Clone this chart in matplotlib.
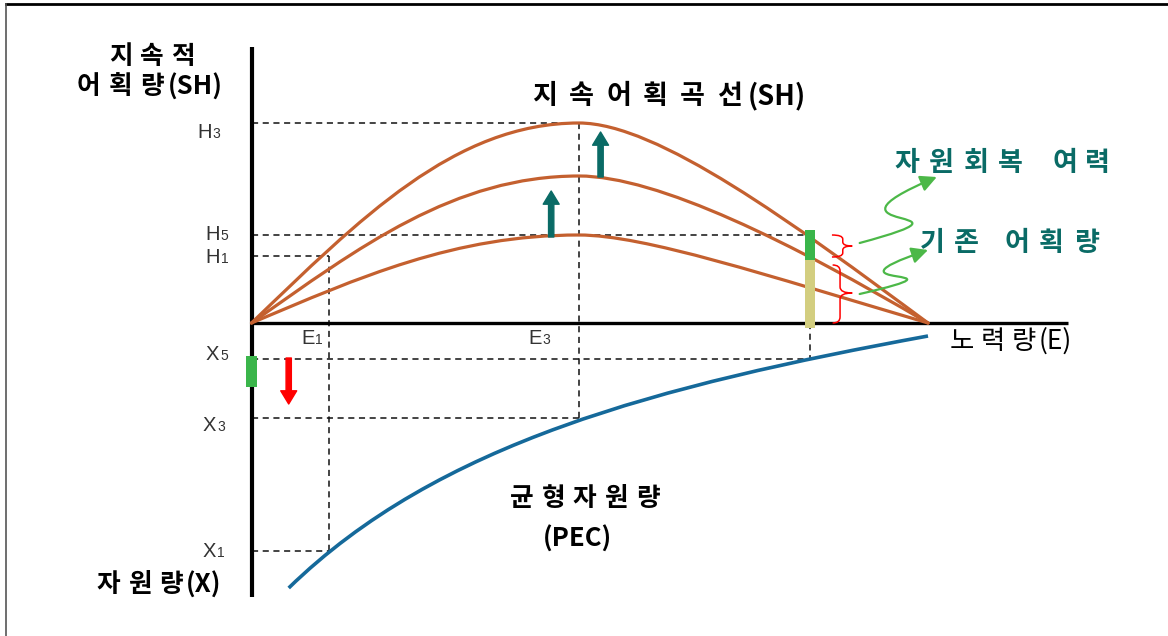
import matplotlib
matplotlib.use("Agg")
import matplotlib.pyplot as plt
from matplotlib.path import Path
from matplotlib.patches import PathPatch, FancyArrowPatch

# ---------------------------------------------------------------------------
# Values (effort 0..100, yield / stock in the same arbitrary units;
# stock is drawn downward from the effort axis, so it is negative)
# ---------------------------------------------------------------------------
E1, E3, E5, E_OPEN = 11.4, 48.4, 82.5, 100.0
H3, H5, H1 = 100.0, 44.0, 33.5
X5, X3, X1 = -18.0, -47.5, -114.0

# sustainable-yield curves (lower, middle, upper) as cubic Bezier control points
sh_lower = [(0, 0), (16, 22.9), (30, 44.0), (48.4, 44.0), (58, 44.0), (76, 24), (100, 0)]
sh_middle = [(0, 0), (16, 38.2), (30, 73.5), (48.4, 73.5), (60, 73.5), (80, 40), (100, 0)]
sh_upper = [(0, 0), (16, 52.0), (30, 100.0), (48.4, 100.0), (60, 100.0), (80, 50), (100, 0)]

# equilibrium stock curve (PEC)
pec_ctrl = [(5.5, -132.5), (27.5, -60.0), (60.0, -31.3), (100.0, -6.5)]

# stacked bar at E5: existing catch + recovery margin
bar_catch = (-2.5, 31.5)
bar_margin = (31.5, 46.5)
stock_bar = (-32.0, -16.5)

ORANGE = "#C4602F"
BLUE = "#15699A"
TEAL = "#0A6B66"
GREEN = "#3AB54A"
KHAKI = "#D3CE80"
RED = "#FF0000"
SQUIGGLE = "#4CB848"

W, H = 1168, 636
fig = plt.figure(figsize=(W / 100, H / 100), dpi=100)
ax = fig.add_axes([0, 0, 1, 1])
ORIGIN_PX, SCALE_E, SCALE_Y = 251.5, 6.765, 2.0
ax.set_xlim(-ORIGIN_PX / SCALE_E, (W - ORIGIN_PX) / SCALE_E)
ax.set_ylim((323 - H) / SCALE_Y, 323 / SCALE_Y)
ax.axis("off")
renderer = fig.canvas.get_renderer()

KFONT = ["Noto Sans CJK KR", "DejaVu Sans"]
LFONT = ["Liberation Sans", "DejaVu Sans"]


def P(x, y):
    return x / W, 1 - y / H


# frame (top and left edges)
fig.add_artist(plt.Line2D([6 / W, 1], [1 - 4 / H, 1 - 4 / H], color="black", lw=2.0))
fig.add_artist(plt.Line2D([6 / W, 6 / W], [0, 1 - 4 / H], color="#555555", lw=1.2))

# dashed guide lines
dash = dict(color="#111111", lw=1.1, ls=(0, (4, 3)), zorder=1)
ax.plot([0, E3], [H3, H3], **dash)
ax.plot([E3, E3], [H3, X3], **dash)
ax.plot([0, E5], [H5, H5], **dash)
ax.plot([0, E1], [H1, H1], **dash)
ax.plot([E1, E1], [H1, X1], **dash)
ax.plot([0, E1], [X1, X1], **dash)
ax.plot([0, E3], [X3, X3], **dash)
ax.plot([0, E5], [X5, X5], **dash)
ax.plot([E5, E5], [0, X5], **dash)

# axes
ax.plot([0, 0], [138, -137], color="black", lw=3.0, solid_capstyle="butt", zorder=3)
ax.plot([0, 120.7], [0, 0], color="black", lw=2.4, solid_capstyle="butt", zorder=3)


def bezier(ctrl, **kw):
    verts = list(ctrl)
    codes = [Path.MOVETO] + [Path.CURVE4] * (len(verts) - 1)
    ax.add_patch(PathPatch(Path(verts, codes), fill=False, **kw))


for curve in (sh_lower, sh_middle, sh_upper):
    bezier(curve, edgecolor=ORANGE, lw=2.3, zorder=4, capstyle="round")
bezier(pec_ctrl, edgecolor=BLUE, lw=2.6, zorder=4)

# bars
ax.bar(E5, bar_catch[1] - bar_catch[0], bottom=bar_catch[0], width=1.5, color=KHAKI, zorder=5)
ax.bar(E5, bar_margin[1] - bar_margin[0], bottom=bar_margin[0], width=1.5, color=GREEN, zorder=5)
ax.bar(0, stock_bar[1] - stock_bar[0], bottom=stock_bar[0], width=1.6, color=GREEN, zorder=5)


def block_arrow(x, y0, y1, color):
    ax.add_patch(FancyArrowPatch((x, y0), (x, y1), mutation_scale=1,
                                 arrowstyle="simple,head_length=9.5,head_width=11.5,tail_width=3.8",
                                 color=color, shrinkA=0, shrinkB=0, zorder=6))


block_arrow(44.3, 43.0, 66.0, TEAL)
block_arrow(51.6, 73.0, 95.5, TEAL)
block_arrow(5.5, -17.5, -40.5, RED)


def brace(x0, xm, xt, ytop, ymid, ybot, r):
    verts = [(x0, ytop), (xm, ytop), (xm, ytop - r), (xm, ymid + r),
             (xm, ymid), (xt, ymid), (xm, ymid), (xm, ymid - r),
             (xm, ybot + r), (xm, ybot), (x0, ybot)]
    codes = [Path.MOVETO, Path.CURVE3, Path.CURVE3, Path.LINETO,
             Path.CURVE3, Path.CURVE3, Path.CURVE3, Path.CURVE3,
             Path.LINETO, Path.CURVE3, Path.CURVE3]
    ax.add_patch(PathPatch(Path(verts, codes), fill=False, edgecolor=RED, lw=1.1, zorder=6))


brace(85.8, 87.4, 88.8, 44.0, 38.5, 33.0, 2.0)
brace(85.9, 87.0, 88.8, 29.0, 15.0, 0.0, 3.0)


def squiggle(ctrl):
    codes = [Path.MOVETO, Path.CURVE4, Path.CURVE4, Path.CURVE4]
    ax.add_patch(FancyArrowPatch(path=Path(ctrl, codes), arrowstyle="-|>,head_length=0.7,head_width=0.35",
                                 mutation_scale=14, color=SQUIGGLE, lw=1.6, zorder=6))


squiggle([(89.9, 40.0), (110.7, 59.0), (81.0, 44.0), (101.3, 73.0)])
squiggle([(89.9, 14.5), (108.4, 29.0), (82.5, 16.5), (100.0, 36.5)])


# Korean labels with wide character pitch
def spaced_text(x_left, y_mid, s, pitch, size, weight="bold", color="black", space=18, pitch2=None):
    cur = x_left
    after_space = False
    for i, ch in enumerate(s):
        if "\uac00" <= ch <= "\ud7a3":
            p = pitch2 if (after_space and pitch2) else pitch
            fig.text(*P(cur + p / 2, y_mid), ch, ha="center", va="center", fontsize=size,
                     fontweight=weight, color=color, family=KFONT)
            cur += p
        elif ch == " ":
            cur += space
            after_space = True
        else:
            fig.text(*P(cur, y_mid), s[i:], ha="left", va="center", fontsize=size,
                     fontweight=weight, color=color, family=KFONT)
            break


spaced_text(105, 57, "지속적", 31, 18.5)
spaced_text(73, 87, "어획량(SH)", 31.5, 18.5)
spaced_text(526, 96, "지속어획곡선(SH)", 37, 19.5)
spaced_text(890, 163, "자원회복 여력", 34.5, 19.5, color=TEAL, space=20, pitch2=33)
spaced_text(915, 243, "기존 어획량", 34, 19.5, color=TEAL, space=16, pitch2=35)
spaced_text(946, 341, "노력량(E)", 31, 19, weight="normal")
spaced_text(506, 499, "균형자원량", 31.5, 18.5)
fig.text(*P(543, 539), "(PEC)", ha="left", va="center", fontsize=18.5, fontweight="bold", family=KFONT)
spaced_text(93, 585, "자원량(X)", 31, 18.5)


def sub_label(x_letter, y_mid, letter, digit):
    base = y_mid + 7
    t = fig.text(*P(x_letter, base), letter, ha="left", va="baseline", fontsize=14.5,
                 color="#333333", family=LFONT)
    x_end = t.get_window_extent(renderer).x1
    fig.text(x_end / W + 1 / W, 1 - base / H, digit, ha="left", va="baseline", fontsize=10,
             color="#333333", family=LFONT)


sub_label(197, 131, "H", "3")
sub_label(205, 233, "H", "5")
sub_label(205, 256, "H", "1")
sub_label(301, 337, "E", "1")
sub_label(528, 337, "E", "3")
sub_label(206, 353, "X", "5")
sub_label(203, 424, "X", "3")
sub_label(203, 550, "X", "1")

fig.savefig("out.png", dpi=100, facecolor="white")
